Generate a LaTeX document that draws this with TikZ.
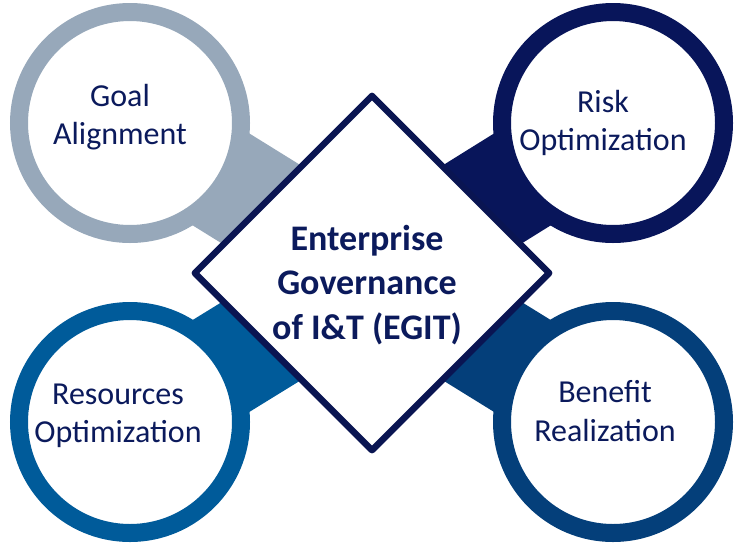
\documentclass[tikz,border=0pt]{standalone}
\usepackage{fontspec}
\setmainfont{Carlito}
\usetikzlibrary{shapes.geometric}
\definecolor{goalc}{HTML}{97A8BA}
\definecolor{riskc}{HTML}{08155A}
\definecolor{resc}{HTML}{005B9A}
\definecolor{benc}{HTML}{043F7A}
\definecolor{egitc}{HTML}{0A1552}
\definecolor{textc}{HTML}{0B1A5C}
\tikzset{
  ring/.style={draw=#1, fill=white, circle, line width=18pt, minimum size=222pt, inner sep=0pt},
  band/.style={draw=#1, line width=108pt},
  caption/.style={font=\fontsize{32}{38.5}\selectfont, text=textc, align=center},
}
\begin{document}
\begin{tikzpicture}[x=1pt, y=-1pt]
	\useasboundingbox (0,0) rectangle (741,542);
	% hub and the four circles
	\coordinate (egit) at (372,273);
	\coordinate (goal) at (130,123);
	\coordinate (risk) at (613,123);
	\coordinate (res)  at (130,422);
	\coordinate (ben)  at (613,422);
	
	\draw[band=goalc] (goal) -- (egit);
	\draw[band=riskc] (risk) -- (egit);
	\draw[band=resc]  (res) -- (egit);
	\draw[band=benc]  (ben) -- (egit);
	
	\node[ring=goalc] (goalring) at (goal) {};
	\node[ring=riskc] (riskring) at (risk) {};
	\node[ring=resc]  (resring)  at (res)  {};
	\node[ring=benc]  (benring)  at (ben)  {};
	
	\node[draw=egitc, fill=white, diamond, line width=6.5pt, line join=round, minimum size=357pt, inner sep=0pt] (hub) at (egit) {};
	
	\node[caption] (goaltext) at (120,117) {Goal\\Alignment};
	\node[caption] (risktext) at (603,123) {Risk\\Optimization};
	\node[caption] (restext)  at (118,416) {Resources\\Optimization};
	\node[caption] (bentext)  at (605,411) {Benefit\\Realization};
	\node[font=\bfseries\fontsize{36}{44.5}\selectfont, text=textc, align=center] (hubtext) at (367,285) {Enterprise\\Governance\\of I\&T (EGIT)};
\end{tikzpicture}
\end{document}
